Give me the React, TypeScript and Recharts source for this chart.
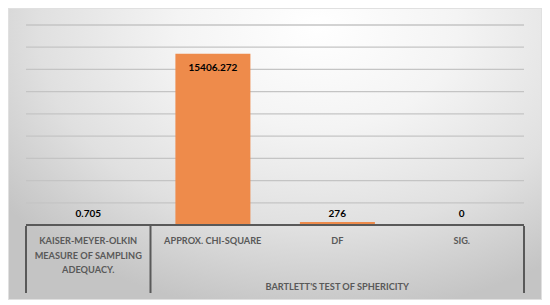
import { BarChart, Bar, XAxis, YAxis, CartesianGrid, LabelList } from 'recharts';

const categories = [
  ['KAISER-MEYER-OLKIN', 'MEASURE OF SAMPLING', 'ADEQUACY.'],
  ['APPROX. CHI-SQUARE'],
  ['DF'],
  ['SIG.'],
];
const values = [0.705, 15406.272, 276, 0];
const valueLabels = ['0.705', '15406.272', '276', '0'];
const groupLabel = "BARTLETT'S TEST OF SPHERICITY";
const yTicks = [0, 2000, 4000, 6000, 8000, 10000, 12000, 14000, 16000, 18000];

const data = values.map((v, i) => ({ key: String(i), value: v, label: valueLabels[i] }));

const W = 532;
const H = 290;
const M = { top: 16, right: 17, bottom: 4, left: 17 };
const band = (W - M.left - M.right) / categories.length;
const FONT = 'Lato, "Open Sans", sans-serif';
const INSIDE_MIN = 5000; // labels of tall bars sit inside the bar top

function CategoryTick(props: any) {
  const { x, y, payload } = props;
  const i = payload.index;
  const lines = categories[i] || [];
  const sep = (sx: number) => (
    <line x1={sx} y1={y - 1} x2={sx} y2={y + 66} stroke="#595959" strokeWidth={2} />
  );
  return (
    <g>
      {i === 0 && sep(x - band / 2)}
      {i === 0 && sep(x + band / 2)}
      {i === categories.length - 1 && sep(x + band / 2)}
      {/* value labels of short bars, all on one row above the axis */}
      {values[i] < INSIDE_MIN && (
        <text x={x} y={y - 10} textAnchor="middle" fontSize={10} fontWeight="bold" fill="#000" fontFamily={FONT}>
          {valueLabels[i]}
        </text>
      )}
      {lines.map((t, k) => (
        <text key={k} x={x} y={y + 17 + k * 14.5} textAnchor="middle" fontSize={9.2} fontWeight="bold" fill="#595959" fontFamily={FONT}>
          {t}
        </text>
      ))}
      {i === 1 && (
        <text x={x + band} y={y + 63} textAnchor="middle" fontSize={9.2} fontWeight="bold" fill="#595959" fontFamily={FONT}>
          {groupLabel}
        </text>
      )}
    </g>
  );
}

function ValueLabel(props: any) {
  const { x, y, width, index } = props;
  if (values[index] < INSIDE_MIN) return null;
  return (
    <text x={x + width / 2} y={y + 17} textAnchor="middle" fontSize={10} fontWeight="bold" fill="#000" fontFamily={FONT}>
      {valueLabels[index]}
    </text>
  );
}

export default function App() {
  return (
    <div
      style={{
        width: W,
        height: H,
        border: '1px solid #e0e0e0',
        background:
          'radial-gradient(ellipse 75% 100% at 58% 6%, #ffffff 0%, #f4f4f4 35%, #e0e0e0 70%, #c4c4c4 100%)',
      }}
    >
      <BarChart width={W} height={H} data={data} margin={M} barCategoryGap="20%">
        <CartesianGrid vertical={false} stroke="#c4c4c4" strokeWidth={1.3} />
        <YAxis hide domain={[0, 18000]} ticks={yTicks} interval={0} />
        <XAxis
          dataKey="key"
          height={70}
          tickSize={0}
          tickLine={false}
          axisLine={{ stroke: '#595959', strokeWidth: 2 }}
          tick={<CategoryTick />}
          interval={0}
        />
        <Bar dataKey="value" fill="#EE8B4B" isAnimationActive={false}>
          <LabelList dataKey="label" content={<ValueLabel />} />
        </Bar>
      </BarChart>
    </div>
  );
}
